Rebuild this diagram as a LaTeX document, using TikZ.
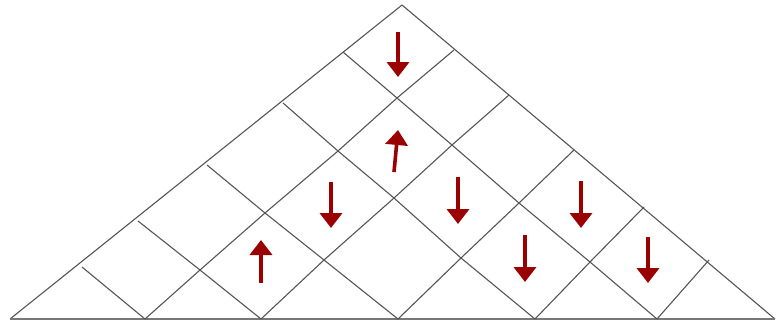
\documentclass[tikz,border=0pt]{standalone}
\usetikzlibrary{arrows.meta}
\definecolor{gridgray}{RGB}{85,85,85}
\definecolor{basegray}{RGB}{120,120,120}
\definecolor{spinred}{RGB}{155,0,0}
\tikzset{
  gridline/.style={draw=gridgray, line width=1.1pt, line join=round},
  baseline/.style={draw=basegray, line width=1.8pt},
  spin/.style={draw=spinred, line width=3.6pt, -{Triangle[length=15pt,width=22pt]}},
}
\begin{document}
\begin{tikzpicture}[x=1pt,y=-1pt]
\useasboundingbox (0,0) rectangle (780,322);
% corners
\coordinate (L) at (10,319);
\coordinate (T) at (402,5);
\coordinate (R) at (775,319);
% left edge points
\coordinate (a1) at (82,267);
\coordinate (a2) at (138,221);
\coordinate (a3) at (207,165);
\coordinate (a4) at (283,103);
\coordinate (a5) at (343,52);
% right edge points
\coordinate (b1) at (454,50);
\coordinate (b2) at (509,95);
\coordinate (b3) at (574,150);
\coordinate (b4) at (644,207);
\coordinate (b5) at (709,260);
% base points
\coordinate (c1) at (145,319);
\coordinate (c2) at (261,319);
\coordinate (c3) at (398,319);
\coordinate (c4) at (535,319);
\coordinate (c5) at (657,319);
% interior points
\coordinate (p12) at (200,270);
\coordinate (p13) at (265,213);
\coordinate (p14) at (338,151);
\coordinate (p15) at (397,98);
\coordinate (p23) at (324,260);
\coordinate (p24) at (394,198);
\coordinate (p25) at (452,145);
\coordinate (p34) at (461,258);
\coordinate (p35) at (519,203);
\coordinate (p45) at (590,262);
% outline
\draw[gridline] (L) -- (T) -- (R);
\draw[baseline] (L) -- (R);
% "/" lines
\draw[gridline] (c1) -- (p12) -- (p13) -- (p14) -- (p15) -- (b1);
\draw[gridline] (c2) -- (p23) -- (p24) -- (p25) -- (b2);
\draw[gridline] (c3) -- (p34) -- (p35) -- (b3);
\draw[gridline] (c4) -- (p45) -- (b4);
\draw[gridline] (c5) -- (b5);
% "\" lines
\draw[gridline] (a1) -- (c1);
\draw[gridline] (a2) -- (p12) -- (c2);
\draw[gridline] (a3) -- (p13) -- (p23) -- (c3);
\draw[gridline] (a4) -- (p14) -- (p24) -- (p34) -- (c4);
\draw[gridline] (a5) -- (p15) -- (p25) -- (p35) -- (p45) -- (c5);
% spins
\draw[spin] (398,32) -- (398,77);
\draw[spin] (394,172) -- (398,130);
\draw[spin] (331,182) -- (331,228);
\draw[spin] (261,283) -- (261,240);
\draw[spin] (458,177) -- (458,224);
\draw[spin] (581,181) -- (581,228);
\draw[spin] (525,235) -- (525,282);
\draw[spin] (648,237) -- (648,283);
\end{tikzpicture}
\end{document}
